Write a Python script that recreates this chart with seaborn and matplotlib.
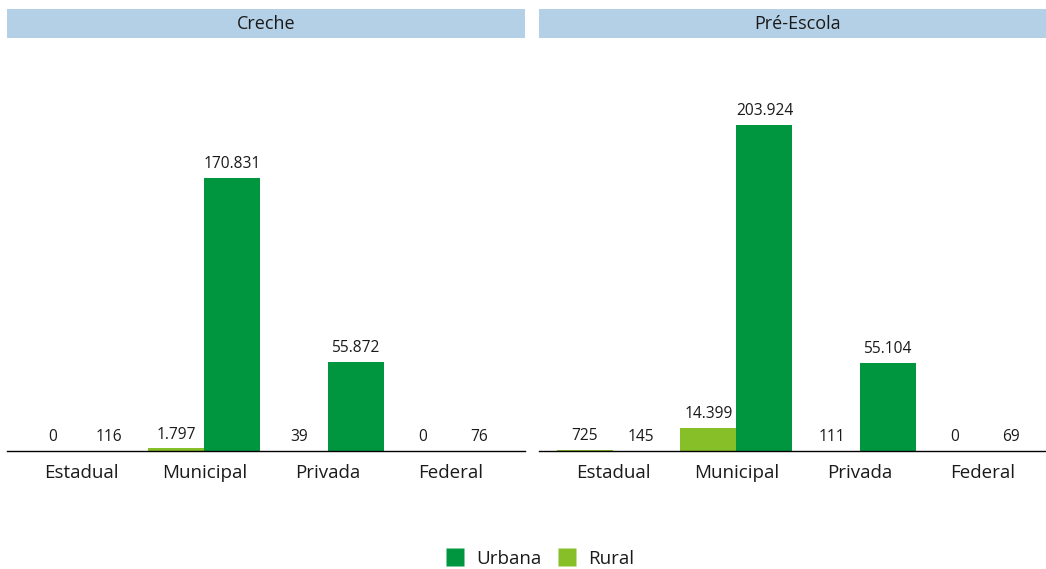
import pandas as pd
import matplotlib.pyplot as plt
import seaborn as sns
from matplotlib.patches import Rectangle
from matplotlib.lines import Line2D

categories = ['Estadual', 'Municipal', 'Privada', 'Federal']
locations = ['Rural', 'Urbana']
panels = ['Creche', 'Pré-Escola']

creche_rural = [0, 1797, 39, 0]
creche_urbana = [116, 170831, 55872, 76]
pre_rural = [725, 14399, 111, 0]
pre_urbana = [145, 203924, 55104, 69]

values = {
    'Creche': {'Rural': creche_rural, 'Urbana': creche_urbana},
    'Pré-Escola': {'Rural': pre_rural, 'Urbana': pre_urbana},
}

rows = []
for p in panels:
    for loc in locations:
        for cat, v in zip(categories, values[p][loc]):
            rows.append({'painel': p, 'dependencia': cat, 'localizacao': loc, 'matriculas': v})
df = pd.DataFrame(rows)

sns.set_theme(style="white")
plt.rcParams['font.family'] = ['Open Sans', 'DejaVu Sans']

colors = {'Urbana': '#00953f', 'Rural': '#86bf27'}
strip_color = '#b4d0e6'

fig = plt.figure(figsize=(10.46, 5.69), dpi=100)
W, H = 1046, 569
ax_w = 518 / W
ax_bottom = (H - 451) / H
ax_h = 400 / H
lefts = [7 / W, 539 / W]

def fmt(v):
    return f"{v:,}".replace(',', '.')

for p, left in zip(panels, lefts):
    ax = fig.add_axes([left, ax_bottom, ax_w, ax_h])
    sub = df[df['painel'] == p]
    sns.barplot(data=sub, x='dependencia', y='matriculas', hue='localizacao',
                hue_order=locations, order=categories, palette=colors,
                width=0.91, saturation=1, legend=False, linewidth=0,
                edgecolor='none', ax=ax)
    for cont, loc in zip(ax.containers, locations):
        ax.bar_label(cont, labels=[fmt(v) for v in values[p][loc]],
                     padding=4, fontsize=11.2, color='#1a1a1a')
    ax.set_xlim(-0.6, 3.6)
    ax.set_ylim(0, 250000)
    ax.set_xlabel('')
    ax.set_ylabel('')
    ax.set_yticks([])
    ax.tick_params(axis='x', length=0, labelsize=13.5, labelcolor='#1a1a1a', pad=9)
    for s in ['top', 'left', 'right']:
        ax.spines[s].set_visible(False)
    ax.spines['bottom'].set_color('black')
    ax.spines['bottom'].set_linewidth(1.0)
    # facet strip
    fig.patches.append(Rectangle((left, 1 - 38 / H), ax_w, 29 / H,
                                 transform=fig.transFigure, facecolor=strip_color,
                                 edgecolor='none'))
    fig.text(left + ax_w / 2, 1 - 24 / H, p, ha='center', va='center',
             fontsize=13, color='#1a1a1a')

handles = [Line2D([], [], marker='s', linestyle='none', markersize=13,
                  markerfacecolor=colors[l], markeredgecolor='none') for l in ['Urbana', 'Rural']]
fig.legend(handles, ['Urbana', 'Rural'], loc='center', bbox_to_anchor=(540 / W, 1 - 559 / H),
           ncol=2, frameon=False, fontsize=13.5, handletextpad=0.6, columnspacing=0.9,
           handlelength=1.0, labelcolor='#1a1a1a')

plt.savefig("out.png", dpi=100)
